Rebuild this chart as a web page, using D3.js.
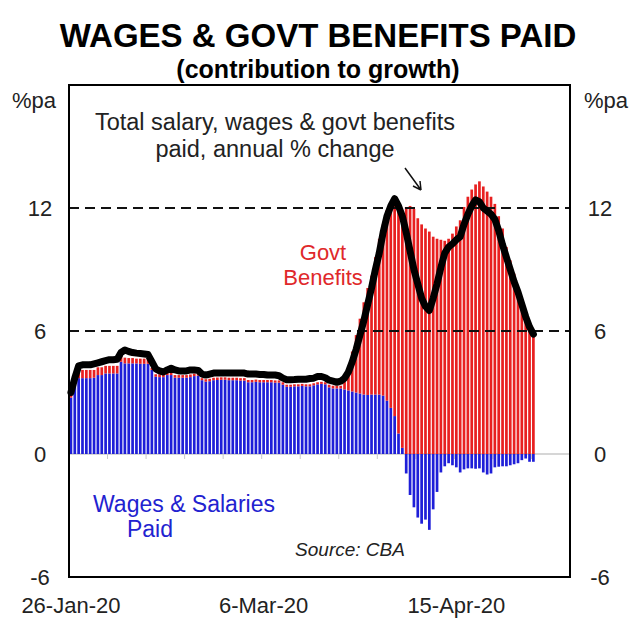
<!DOCTYPE html>
<html lang="en">
<head>
    <title>Wages & govt benefits paid</title>
    <meta charset="utf-8">
    <style>
        body { margin: 0; background: #fff; }
        text { font-family: 'Liberation Sans', Arial, sans-serif; }
    </style>
</head>
<body>
    <svg id="chart" width="640" height="639"></svg>

    <script src="https://d3js.org/d3.v7.min.js"></script>
    <script>
    // contribution of wages & salaries (blue) and govt benefits (red), %pa
    const wages = [
        2.75, 3.4, 3.7, 3.7, 3.7, 3.7, 3.72, 3.85, 3.85, 3.93,
        3.93, 3.93, 3.93, 4.5, 4.42, 4.42, 4.42, 4.42, 4.4, 4.4,
        4.4, 4.1, 3.77, 3.75, 3.75, 3.85, 3.85, 3.72, 3.72, 3.72,
        3.72, 3.75, 3.8, 3.82, 3.6, 3.53, 3.55, 3.6, 3.61, 3.62,
        3.62, 3.6, 3.6, 3.6, 3.58, 3.58, 3.5, 3.5, 3.52, 3.5,
        3.5, 3.5, 3.5, 3.48, 3.48, 3.38, 3.28, 3.28, 3.3, 3.3,
        3.32, 3.3, 3.3, 3.35, 3.4, 3.42, 3.4, 3.25, 3.2, 3.2,
        3.2, 3.15, 3.1, 3.05, 3.0, 2.95, 2.9, 2.88, 2.9, 2.9,
        2.9, 2.85, 2.6, 2.25, 1.85, 1.0, 0.3, -0.95, -2.0, -2.6,
        -3.1, -3.4, -3.2, -3.7, -2.7, -1.85, -0.9, -0.6, -0.45, -0.55,
        -0.65, -0.9, -0.75, -0.7, -0.7, -0.72, -0.7, -0.9, -1.0, -0.95,
        -0.65, -0.62, -0.6, -0.6, -0.55, -0.5, -0.45, -0.3, -0.22, -0.38,
        -0.38
    ];
    const benefits = [
        0.15, 0.2, 0.35, 0.4, 0.4, 0.4, 0.38, 0.38, 0.38, 0.37,
        0.37, 0.37, 0.37, 0.3, 0.28, 0.26, 0.26, 0.23, 0.25, 0.25,
        0.22, 0.1, 0.12, 0.14, 0.14, 0.14, 0.14, 0.13, 0.13, 0.13,
        0.13, 0.13, 0.12, 0.11, 0.1, 0.12, 0.12, 0.12, 0.12, 0.12,
        0.12, 0.12, 0.12, 0.12, 0.12, 0.12, 0.11, 0.11, 0.11, 0.11,
        0.11, 0.11, 0.11, 0.11, 0.11, 0.12, 0.1, 0.1, 0.1, 0.1,
        0.1, 0.1, 0.1, 0.1, 0.1, 0.1, 0.1, 0.13, 0.13, 0.13,
        0.13, 0.45, 1.2, 1.95, 2.8, 3.65, 4.5, 5.22, 5.8, 6.7,
        7.6, 8.35, 9.3, 9.95, 10.45, 10.95, 11.45, 12.05, 12.1, 11.95,
        11.5, 11.2, 11.0, 10.85, 10.6, 10.5, 10.45, 10.4, 10.5, 10.75,
        11.1, 11.4, 12.05, 12.55, 12.9, 13.15, 13.3, 13.05, 12.8, 12.55,
        12.2, 11.6, 11.0, 10.1, 9.45, 8.8, 8.0, 7.35, 6.7, 6.3,
        5.9
    ];
    // total salary, wages & govt benefits paid, annual % change
    const total = [
        3.0, 3.7, 4.3, 4.35, 4.35, 4.35, 4.4, 4.45, 4.5, 4.55,
        4.6, 4.6, 4.62, 4.95, 5.07, 5.0, 4.95, 4.92, 4.9, 4.88,
        4.85, 4.5, 4.15, 4.05, 4.0, 4.1, 4.18, 4.1, 4.05, 4.05,
        4.05, 4.1, 4.1, 4.08, 3.9, 3.85, 3.9, 3.95, 3.95, 3.95,
        3.95, 3.95, 3.95, 3.95, 3.95, 3.95, 3.9, 3.9, 3.9, 3.88,
        3.88, 3.85, 3.85, 3.85, 3.82, 3.7, 3.62, 3.62, 3.63, 3.65,
        3.65, 3.65, 3.68, 3.7, 3.78, 3.78, 3.72, 3.6, 3.55, 3.5,
        3.55, 3.7, 4.0, 4.5, 5.1, 5.8, 6.5, 7.3, 8.1, 9.0,
        9.8, 10.8, 11.6, 12.1, 12.45, 12.1, 11.6, 10.8, 9.9, 9.0,
        8.3, 7.6, 7.2, 7.0, 7.6, 8.3, 9.1, 9.8, 10.1, 10.25,
        10.45, 10.6, 11.2, 11.7, 12.1, 12.4, 12.3, 12.0, 11.85, 11.7,
        11.45, 10.9, 10.2, 9.6, 9.0, 8.4, 7.9, 7.3, 6.7, 6.2,
        5.85
    ];
    const slots = 130;                 // category slots on the x axis
    const dateTicks = [0, 50, 100];
    const dateLabels = ["26-Jan-20", "6-Mar-20", "15-Apr-20"];
    const yTicks = [-6, 0, 6, 12];
    const gridValues = [6, 12];

    let svg = d3.select("#chart");
    let plot = {left: 69, right: 570, top: 85, bottom: 577};

    let data = wages.map((w, i) => ({i: i, wages: w, benefits: benefits[i], total: total[i]}));

    let xScale = d3.scaleBand()
        .domain(d3.range(slots))
        .range([plot.left, plot.right])
        .paddingInner(0.3)
        .paddingOuter(0.15);

    let yScale = d3.scaleLinear()
        .domain([-6, 18])
        .range([plot.bottom, plot.top]);

    svg.append("rect")
        .attr("width", 640).attr("height", 639)
        .attr("fill", "#fff");

    // zero line
    svg.append("line")
        .attr("x1", plot.left).attr("x2", plot.right)
        .attr("y1", yScale(0)).attr("y2", yScale(0))
        .attr("stroke", "#c8c8c8").attr("stroke-width", 1.5);

    // category ticks on the zero line, every 10 slots
    svg.append("g")
        .selectAll("line")
        .data(d3.range(0, slots + 1, 10))
        .join("line")
        .attr("x1", d => plot.left + d * xScale.step())
        .attr("x2", d => plot.left + d * xScale.step())
        .attr("y1", yScale(0))
        .attr("y2", yScale(0) + 5)
        .attr("stroke", "#c8c8c8").attr("stroke-width", 1);

    // stacked bars
    let series = d3.stack()
        .keys(["wages", "benefits"])
        .offset(d3.stackOffsetDiverging)(data);
    let colour = {wages: "#1e1ed8", benefits: "#e82020"};

    svg.append("g")
        .selectAll("g")
        .data(series)
        .join("g")
        .attr("fill", s => colour[s.key])
        .selectAll("rect")
        .data(s => s)
        .join("rect")
        .attr("x", d => xScale(d.data.i))
        .attr("width", xScale.bandwidth())
        .attr("y", d => yScale(Math.max(d[0], d[1])))
        .attr("height", d => Math.abs(yScale(d[0]) - yScale(d[1])));

    // dashed grid lines at 6 and 12
    svg.append("g")
        .selectAll("line")
        .data(gridValues)
        .join("line")
        .attr("x1", plot.left).attr("x2", plot.right)
        .attr("y1", d => yScale(d)).attr("y2", d => yScale(d))
        .attr("stroke", "#111").attr("stroke-width", 2)
        .attr("stroke-dasharray", "10,6");

    // total line
    let line = d3.line()
        .x(d => xScale(d.i) + xScale.bandwidth() / 2)
        .y(d => yScale(d.total))
        .curve(d3.curveLinear);

    svg.append("path")
        .datum(data)
        .attr("d", line)
        .attr("fill", "none")
        .attr("stroke", "#000")
        .attr("stroke-width", 7)
        .attr("stroke-linejoin", "round")
        .attr("stroke-linecap", "round");

    // frame
    svg.append("rect")
        .attr("x", plot.left).attr("y", plot.top)
        .attr("width", plot.right - plot.left)
        .attr("height", plot.bottom - plot.top)
        .attr("fill", "none")
        .attr("stroke", "#000").attr("stroke-width", 2);

    // y tick labels both sides
    [40, 600].forEach(x => {
        svg.append("g")
            .selectAll("text")
            .data(yTicks)
            .join("text")
            .attr("x", x)
            .attr("y", d => yScale(d) + 8)
            .attr("text-anchor", "middle")
            .attr("font-size", 22)
            .attr("fill", "#222")
            .text(d => d);
        svg.append("text")
            .attr("x", x - 6 + (x > 300 ? 12 : 0))
            .attr("y", 108)
            .attr("text-anchor", "middle")
            .attr("font-size", 22)
            .attr("fill", "#222")
            .text("%pa");
    });

    // date labels
    svg.append("g")
        .selectAll("text")
        .data(dateTicks)
        .join("text")
        .attr("x", d => xScale(d) + xScale.bandwidth() / 2)
        .attr("y", 613)
        .attr("text-anchor", "middle")
        .attr("font-size", 22)
        .attr("fill", "#222")
        .text((d, i) => dateLabels[i]);

    // titles
    svg.append("text")
        .attr("x", 318).attr("y", 47)
        .attr("text-anchor", "middle")
        .attr("font-size", 33).attr("font-weight", "bold")
        .text("WAGES & GOVT BENEFITS PAID");
    svg.append("text")
        .attr("x", 318).attr("y", 78)
        .attr("text-anchor", "middle")
        .attr("font-size", 25).attr("font-weight", "bold")
        .text("(contribution to growth)");

    // annotations
    let note = svg.append("text")
        .attr("text-anchor", "middle")
        .attr("font-size", 23.5)
        .attr("fill", "#222");
    note.append("tspan").attr("x", 275).attr("y", 130).text("Total salary, wages & govt benefits");
    note.append("tspan").attr("x", 275).attr("y", 157).text("paid, annual % change");

    svg.append("path")
        .attr("d", "M405,168 L421,190 M421,190 L420,181 M421,190 L413,186")
        .attr("fill", "none")
        .attr("stroke", "#111").attr("stroke-width", 1.5);

    let govt = svg.append("text")
        .attr("text-anchor", "middle")
        .attr("font-size", 22)
        .attr("fill", "#e0282a");
    govt.append("tspan").attr("x", 323).attr("y", 260).text("Govt");
    govt.append("tspan").attr("x", 323).attr("y", 285).text("Benefits");

    let wagesNote = svg.append("text")
        .attr("text-anchor", "middle")
        .attr("font-size", 23)
        .attr("fill", "#2222d0");
    wagesNote.append("tspan").attr("x", 184).attr("y", 512).text("Wages & Salaries");
    wagesNote.append("tspan").attr("x", 150).attr("y", 537).text("Paid");

    svg.append("text")
        .attr("x", 350).attr("y", 556)
        .attr("text-anchor", "middle")
        .attr("font-size", 19)
        .attr("font-style", "italic")
        .attr("fill", "#222")
        .text("Source: CBA");
    </script>
</body>
</html>
